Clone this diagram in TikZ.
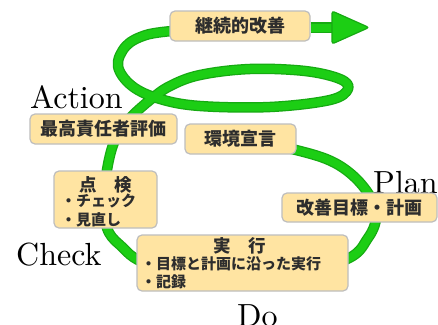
\documentclass[tikz,border=0pt]{standalone}
\usepackage{fontspec}
\newfontfamily\jp{Noto Sans CJK JP}
\newfontfamily\lmten{lmroman10-regular.otf}
\definecolor{grn}{RGB}{28,206,20}
\definecolor{grndark}{RGB}{22,170,18}
\definecolor{boxfill}{RGB}{255,228,162}
\definecolor{boxedge}{RGB}{190,190,190}
\definecolor{jtxt}{RGB}{45,45,45}
\begin{document}
\begin{tikzpicture}[x=1pt,y=-1pt,
  box/.style={draw=boxedge, fill=boxfill, line width=1.2pt, rounded corners=5pt, inner sep=0pt},
  jbig/.style={font=\jp\bfseries\fontsize{18}{20}\selectfont, text=jtxt},
  jtitle/.style={font=\jp\bfseries\fontsize{17.5}{20}\selectfont, text=jtxt, inner sep=0pt},
  jlist/.style={font=\jp\bfseries\fontsize{15}{19}\selectfont, text=jtxt, inner sep=0pt, anchor=west},
  pdca/.style={font=\lmten\fontsize{32}{36}\selectfont, inner sep=0pt, anchor=base west},
  gline/.style={line width=10.5pt, draw=grndark, line cap=round, line join=round},
  gcore/.style={line width=8pt, draw=grn, line cap=round, line join=round}]
\useasboundingbox (0,0) rectangle (438,324);
\fill[white] (0,0) rectangle (438,324);
% green spiral
\def\spiral{plot[smooth, tension=0.6] coordinates {(240,139) (296,150) (335,163) (362,185) (376,212) (368,238) (340,262) (240,285) (150,265) (120,245) (107,228) (104,200) (107,170) (113,145) (121,131) (130,118) (150,100) (170,86) (200,75) (250,69) (305,71) (340,79) (348,89) (330,100) (270,107) (200,106) (160,99) (132,86) (118,66) (126,46) (146,35) (172,31)}}
\draw[gline] \spiral;
\draw[gcore] \spiral;
% labels
\node[pdca] (act) at (30,108) {Action};
\node[pdca] (plan) at (373,193) {Plan};
\node[pdca] (chk) at (16,265) {Check};
\node[pdca] (do) at (237,326) {Do};
% boxes
\node[box, jbig, minimum width=140pt, minimum height=30pt] (kz) at (240,26) {継続的改善};
\coordinate (tip) at (369,27.5);
\draw[gline, line cap=butt] (kz.east |- tip) -- (334,27.5);
\draw[gcore, line cap=butt] (kz.east |- tip) -- (335,27.5);
\filldraw[fill=grn, draw=grndark, line width=1.2pt, rounded corners=2.5pt] (332,11) -- (tip) -- (332,44) -- cycle;
\node[box, jbig, minimum width=147pt, minimum height=30pt] (hyoka) at (103.5,129) {最高責任者評価};
\node[box, jbig, minimum width=111pt, minimum height=30pt] (kankyo) at (240.5,139) {環境宣言};
\node[box, jbig, minimum width=155pt, minimum height=29pt] (mokuhyo) at (359.5,207.5) {改善目標・計画};
\node[box, minimum width=103pt, minimum height=57pt] (tenken) at (105.5,199.5) {};
\node[jtitle] (tkt) at (105.5,185) {点　検};
\node[jlist] (tk1) at (61,201) {・チェック};
\node[jlist] (tk2) at (61,220) {・見直し};
\node[box, minimum width=211pt, minimum height=56pt] (jikko) at (242.5,263) {};
\node[jtitle] (jkt) at (240,246) {実　行};
\node[jlist] (jk1) at (141,264) {・目標と計画に沿った実行};
\node[jlist] (jk2) at (141,282) {・記録};
\end{tikzpicture}
\end{document}
